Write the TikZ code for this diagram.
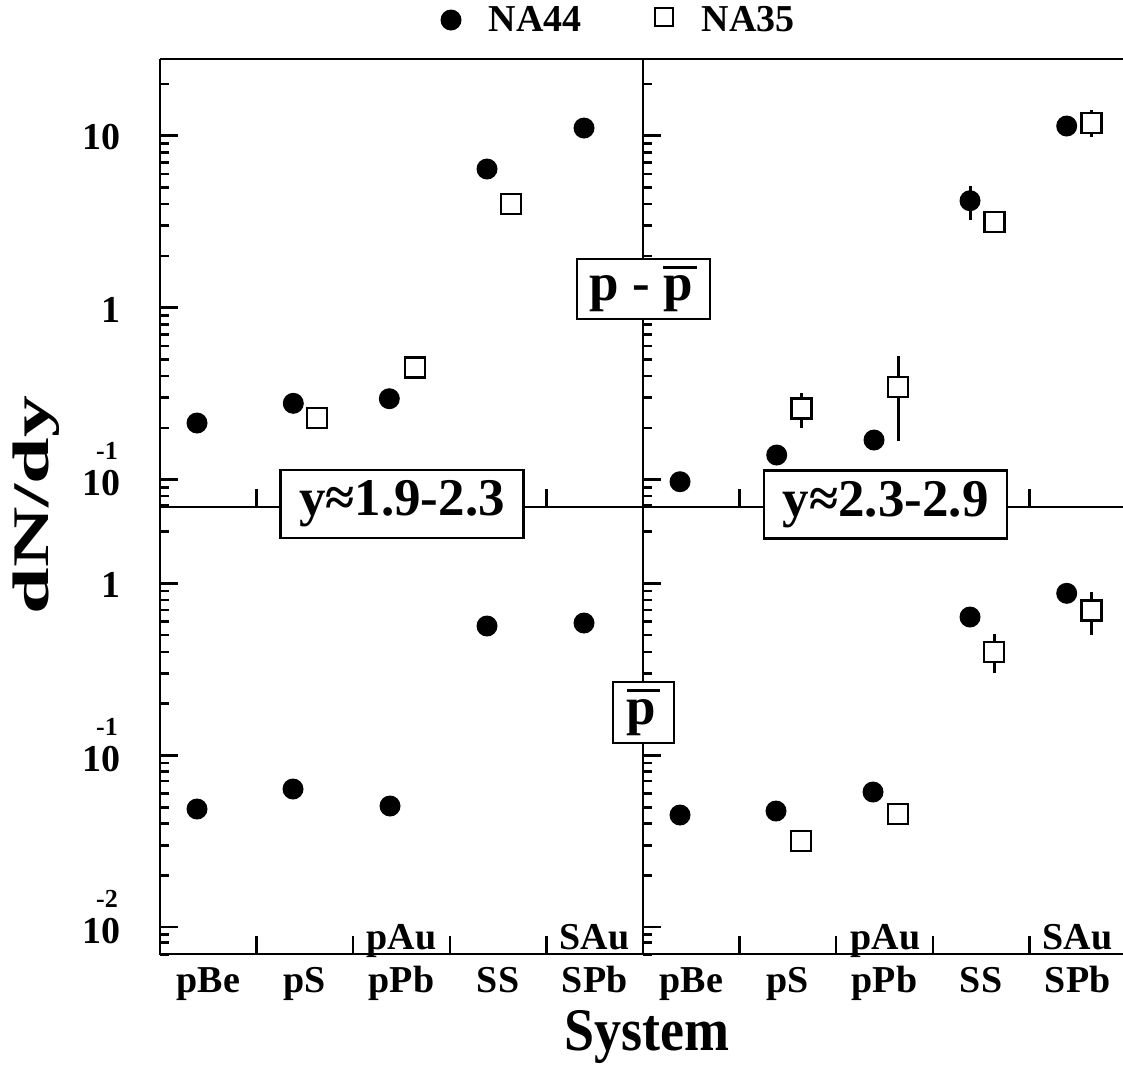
\documentclass[tikz,border=0pt]{standalone}
\usepackage{fontspec}
\usepackage{graphicx}
\setmainfont{Liberation Serif}
\newcommand\pbarglyph{\leavevmode\vbox{\hrule height 3pt\kern 7pt\hbox{p\kern 4pt}}}
\begin{document}
\begin{tikzpicture}[x=1pt,y=-1pt,
  axisline/.style={line width=2.2pt},
  tickline/.style={line width=2.5pt},
  dot/.style={circle, fill=black, inner sep=0pt, minimum size=21pt},
  sq/.style={draw, fill=white, line width=2.4pt, inner sep=0pt, minimum size=20pt},
  errbar/.style={line width=3pt},
  lbl/.style={font=\fontsize{38}{40}\selectfont\bfseries, inner sep=0pt},
  supl/.style={font=\fontsize{26}{28}\selectfont\bfseries, inner sep=0pt},
  bigbox/.style={draw, line width=2.4pt, fill=white, inner sep=0pt, font=\fontsize{53}{56}\selectfont\bfseries},
  title/.style={font=\fontsize{54}{58}\selectfont\bfseries, inner sep=0pt}]
\useasboundingbox (0,0) rectangle (1123,1072);
\fill[white] (0,0) rectangle (1123,1072);

% frame
\draw[axisline] (160,59) -- (1123,59);
\draw[axisline] (160,59) -- (160,954) -- (1123,954);
\draw[axisline] (643,59) -- (643,954);
\draw[axisline] (160,506.7) -- (1123,506.7);

% y ticks
\foreach \xo in {160,643}{
  \foreach \v in {0.1,1,10}{
    \pgfmathsetmacro\yy{307.7-172*log10(\v)}
    \draw[tickline] (\xo,\yy) -- ++(18,0);
  }
  \foreach \v in {0.07,0.08,0.09,0.2,0.3,0.4,0.5,0.6,0.7,0.8,0.9,2,3,4,5,6,7,8,9,20}{
    \pgfmathsetmacro\yy{307.7-172*log10(\v)}
    \draw[tickline] (\xo,\yy) -- ++(9,0);
  }
  \foreach \v in {0.01,0.1,1}{
    \pgfmathsetmacro\yy{583.3-172.2*log10(\v)}
    \draw[tickline] (\xo,\yy) -- ++(18,0);
  }
  \foreach \v in {0.007,0.008,0.009,0.02,0.03,0.04,0.05,0.06,0.07,0.08,0.09,0.2,0.3,0.4,0.5,0.6,0.7,0.8,0.9,2}{
    \pgfmathsetmacro\yy{583.3-172.2*log10(\v)}
    \draw[tickline] (\xo,\yy) -- ++(9,0);
  }
}

% x ticks
\foreach \k in {1,2,3,4}{
  \pgfmathsetmacro\xa{160+96.6*\k}
  \pgfmathsetmacro\xb{643+96.6*\k}
  \draw[tickline] (\xa,954) -- ++(0,-18);
  \draw[tickline] (\xb,954) -- ++(0,-18);
  \draw[tickline] (\xa,506.7) -- ++(0,-18);
  \draw[tickline] (\xb,506.7) -- ++(0,-18);
}

% error bars
\draw[errbar] (801.3,393.3) -- (801.3,428.3);
\draw[errbar] (898,356) -- (898,440.7);
\draw[errbar] (970,186) -- (970,220);
\draw[errbar] (1091.3,110) -- (1091.3,137);
\draw[errbar] (994,634) -- (994,673);
\draw[errbar] (1091.3,592) -- (1091.3,635);

% data: left panel, p - pbar
\node[dot] (lu1) at (197,423) {};
\node[dot] (lu2) at (293.3,403.3) {};
\node[sq]  (lu2s) at (317,418) {};
\node[dot] (lu3) at (389.3,398.7) {};
\node[sq]  (lu3s) at (414.7,367.5) {};
\node[dot] (lu4) at (487,169) {};
\node[sq]  (lu4s) at (511,204) {};
\node[dot] (lu5) at (584,128) {};
% left panel, pbar
\node[dot] (ll1) at (197,809) {};
\node[dot] (ll2) at (293,789) {};
\node[dot] (ll3) at (390,806) {};
\node[dot] (ll4) at (487,626) {};
\node[dot] (ll5) at (584,623) {};
% right panel, p - pbar
\node[dot] (ru1) at (680,481.7) {};
\node[dot] (ru2) at (776.7,455) {};
\node[sq]  (ru2s) at (801.3,408.3) {};
\node[dot] (ru3) at (874,440) {};
\node[sq]  (ru3s) at (898,387) {};
\node[dot] (ru4) at (970,200.7) {};
\node[sq]  (ru4s) at (994.3,221.7) {};
\node[dot] (ru5) at (1066.7,126) {};
\node[sq]  (ru5s) at (1091.3,123) {};
% right panel, pbar
\node[dot] (rl1) at (680,815) {};
\node[dot] (rl2) at (776,811) {};
\node[sq]  (rl2s) at (801,841) {};
\node[dot] (rl3) at (873,792) {};
\node[sq]  (rl3s) at (898,814) {};
\node[dot] (rl4) at (970,617) {};
\node[sq]  (rl4s) at (994,652) {};
\node[dot] (rl5) at (1066.7,593.3) {};
\node[sq]  (rl5s) at (1091.3,610.3) {};

% label boxes
\node[bigbox, minimum width=243pt, minimum height=68pt] (yl) at (402,504) {y≈1.9-2.3};
\node[bigbox, minimum width=243pt, minimum height=68pt] (yr) at (885.7,504.5) {y≈2.3-2.9};
\node[bigbox, minimum width=133pt, minimum height=60pt] (ppb) at (643.3,289) {p - \pbarglyph};
\node[bigbox, minimum width=61pt, minimum height=61pt] (pb) at (643.7,712.2) {\pbarglyph};

% y tick labels
\node[lbl, anchor=east] (t10) at (121,137) {10};
\node[lbl, anchor=east] (t1u) at (121,310) {1};
\node[lbl, anchor=east] (t01u) at (121,483) {10};
\node[supl, anchor=east] (e01u) at (118,451) {-1};
\node[lbl, anchor=east] (t1l) at (121,585) {1};
\node[lbl, anchor=east] (t01l) at (121,759) {10};
\node[supl, anchor=east] (e01l) at (118,727) {-1};
\node[lbl, anchor=east] (t001l) at (121,931) {10};
\node[supl, anchor=east] (e001l) at (118,899) {-2};

% x labels
\foreach \n/\t [count=\i from 0] in {a/pBe,b/pS,c/pPb,d/SS,e/SPb}{
  \node[lbl, anchor=base] (xl\n) at (208.3+96.6*\i,992) {\t};
  \node[lbl, anchor=base] (xr\n) at (691.3+96.6*\i,992) {\t};
}
\node[lbl, anchor=base] (pAuL) at (401.5,949) {pAu};
\node[lbl, anchor=base] (SAuL) at (594.5,949) {SAu};
\node[lbl, anchor=base] (pAuR) at (885.5,949) {pAu};
\node[lbl, anchor=base] (SAuR) at (1077.5,949) {SAu};

% axis titles
\node[title, rotate=90] (ytitle) at (36,505) {\scalebox{1.55}[0.95]{dN/dy}};
\node[title, anchor=base] (xtitle) at (647,1050) {\scalebox{1}[1.12]{System}};

% legend
\node[dot] (leg1) at (451,20) {};
\node[lbl] (leg1t) at (535,19) {NA44};
\node[sq, minimum size=18pt, line width=2pt] (leg2) at (664,16.5) {};
\node[lbl] (leg2t) at (748,19) {NA35};
\end{tikzpicture}
\end{document}
